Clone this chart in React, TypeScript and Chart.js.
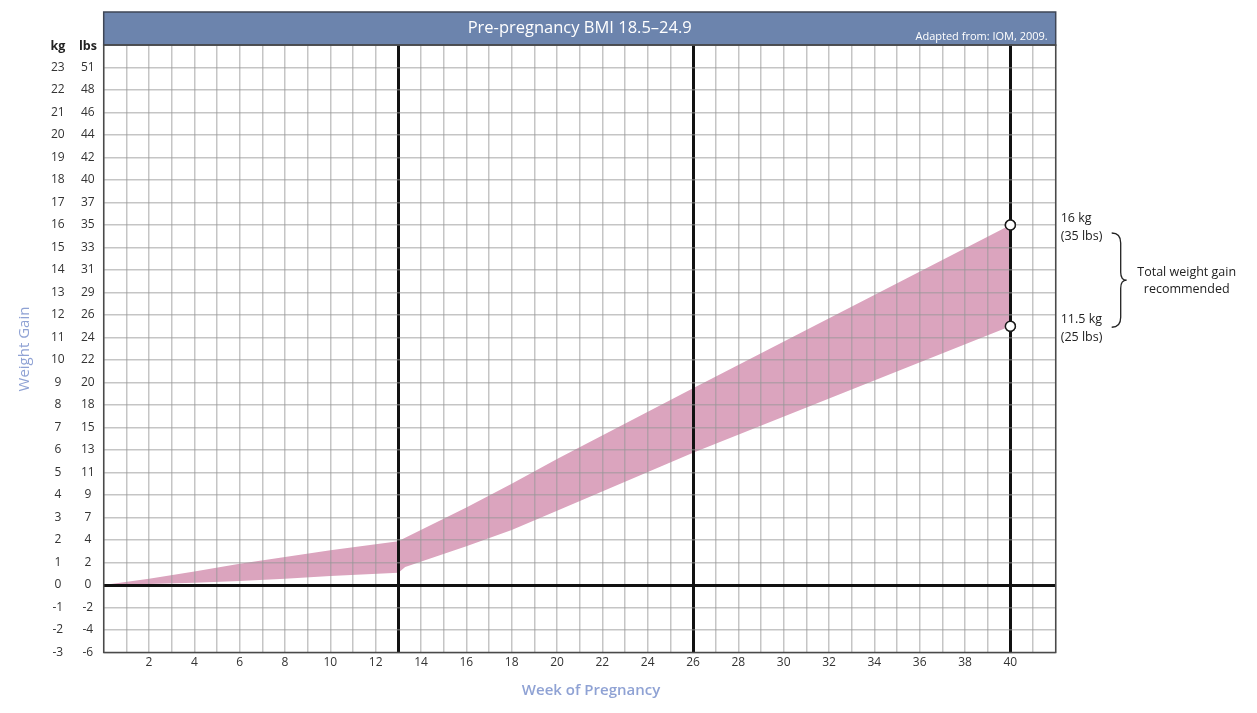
import { useEffect, useRef } from 'react';
import { Chart, registerables } from 'chart.js';

Chart.register(...registerables);

// ---- data ----
const weeks = [0, 2, 4, 6, 8, 10, 13, 13.3, 16, 18, 20, 26, 40];
const lowerGainKg = [0, 0.04, 0.1, 0.18, 0.28, 0.4, 0.55, 0.8, 1.72, 2.45, 3.3, 5.88, 11.5];
const upperGainKg = [0, 0.28, 0.6, 0.95, 1.25, 1.55, 1.95, 2.1, 3.45, 4.5, 5.6, 8.75, 16];
const markerWeeks = [40, 40];
const markerKg = [16, 11.5];
const weekTickLabels = [2, 4, 6, 8, 10, 12, 14, 16, 18, 20, 22, 24, 26, 28, 30, 32, 34, 36, 38, 40];
const kgTickLabels = [-3, -2, -1, 0, 1, 2, 3, 4, 5, 6, 7, 8, 9, 10, 11, 12, 13, 14, 15, 16, 17, 18, 19, 20, 21, 22, 23];
const lbsTickLabels = [-6, -4, -2, 0, 2, 4, 7, 9, 11, 13, 15, 18, 20, 22, 24, 26, 29, 31, 33, 35, 37, 40, 42, 44, 46, 48, 51];
const trimesterWeeks = [13, 26, 40];
const titleText = 'Pre-pregnancy BMI 18.5–24.9';
const sourceText = 'Adapted from: IOM, 2009.';
const xTitle = 'Week of Pregnancy';
const yTitle = 'Weight Gain';
const upperLabel = ['16 kg', '(35 lbs)'];
const lowerLabel = ['11.5 kg', '(25 lbs)'];
const braceLabel = ['Total weight gain', 'recommended'];

const FONT = '"Open Sans", "DejaVu Sans", sans-serif';
const PINK = '#dba4be';
const GRID = 'rgba(150,150,150,0.55)';
const AXIS_BLUE = '#8fa2d4';
const HEADER_BLUE = '#6c84ad';
const TICK_COLOR = '#333333';

const decorPlugin = {
  id: 'decor',
  afterDraw(chart: any) {
    const { ctx, chartArea } = chart;
    const { left, right, top, bottom } = chartArea;
    const yS = chart.scales.y;
    const xS = chart.scales.x;
    ctx.save();

    // header bar
    ctx.fillStyle = HEADER_BLUE;
    ctx.fillRect(left, 12, right - left, top - 12);
    ctx.strokeStyle = '#3e4656';
    ctx.lineWidth = 1.5;
    ctx.strokeRect(left, 12, right - left, top - 12);
    ctx.fillStyle = '#ffffff';
    ctx.textBaseline = 'middle';
    ctx.textAlign = 'center';
    ctx.font = `16.5px ${FONT}`;
    ctx.fillText(titleText, (left + right) / 2, 28);
    ctx.textAlign = 'right';
    ctx.font = `11px ${FONT}`;
    ctx.fillText(sourceText, right - 8, 37);

    // plot border
    ctx.strokeStyle = '#4a4a4a';
    ctx.lineWidth = 1.5;
    ctx.strokeRect(left, top, right - left, bottom - top);

    // redraw marker points on top of the grid
    const meta = chart.getDatasetMeta(2);
    meta.data.forEach((el: any) => el.draw(ctx, chartArea));

    // kg / lbs column headers
    ctx.fillStyle = '#222';
    ctx.textAlign = 'center';
    ctx.font = `bold 12.5px ${FONT}`;
    ctx.fillText('kg', 58, 46.5);
    ctx.fillText('lbs', 88, 46.5);

    // axis titles
    ctx.fillStyle = AXIS_BLUE;
    ctx.font = `600 15px ${FONT}`;
    ctx.fillText(xTitle, xS.getPixelForValue(21.5), 691);
    ctx.save();
    ctx.translate(25, 349);
    ctx.rotate(-Math.PI / 2);
    ctx.font = `500 15px ${FONT}`;
    ctx.fillText(yTitle, 0, 0);
    ctx.restore();

    // right annotations
    ctx.fillStyle = '#222';
    ctx.textAlign = 'left';
    ctx.font = `12.5px ${FONT}`;
    const tx = right + 5;
    const yU = yS.getPixelForValue(markerKg[0]);
    const yL = yS.getPixelForValue(markerKg[1]);
    ctx.fillText(upperLabel[0], tx, yU - 7);
    ctx.fillText(upperLabel[1], tx, yU + 11);
    ctx.fillText(lowerLabel[0], tx, yL - 7);
    ctx.fillText(lowerLabel[1], tx, yL + 11);

    // brace
    const bx = right + 56;
    const bTop = yU + 8;
    const bBot = yL + 1;
    const mid = (bTop + bBot) / 2;
    const w = 9;
    ctx.strokeStyle = '#222';
    ctx.lineWidth = 1.3;
    ctx.beginPath();
    ctx.moveTo(bx, bTop);
    ctx.quadraticCurveTo(bx + w, bTop, bx + w, bTop + 10);
    ctx.lineTo(bx + w, mid - 8);
    ctx.quadraticCurveTo(bx + w, mid, bx + w + 6, mid);
    ctx.quadraticCurveTo(bx + w, mid, bx + w, mid + 8);
    ctx.lineTo(bx + w, bBot - 10);
    ctx.quadraticCurveTo(bx + w, bBot, bx, bBot);
    ctx.stroke();

    ctx.textAlign = 'center';
    ctx.fillText(braceLabel[0], right + 131, mid - 8);
    ctx.fillText(braceLabel[1], right + 131, mid + 9);

    ctx.restore();
  },
};

export default function App() {
  const ref = useRef<HTMLCanvasElement>(null);
  useEffect(() => {
    if (!ref.current) return;
    const chart = new Chart(ref.current, {
      type: 'line',
      data: {
        datasets: [
          {
            data: weeks.map((w, i) => ({ x: w, y: lowerGainKg[i] })),
            borderWidth: 0,
            borderColor: 'rgba(0,0,0,0)',
            pointRadius: 0,
            fill: false,
            tension: 0,
          },
          {
            data: weeks.map((w, i) => ({ x: w, y: upperGainKg[i] })),
            borderWidth: 0,
            borderColor: 'rgba(0,0,0,0)',
            backgroundColor: PINK,
            pointRadius: 0,
            fill: '-1',
            tension: 0,
          },
          {
            data: markerWeeks.map((w, i) => ({ x: w, y: markerKg[i] })),
            showLine: false,
            pointRadius: 5,
            pointBackgroundColor: '#ffffff',
            pointBorderColor: '#1a1a1a',
            pointBorderWidth: 1.5,
            fill: false,
          },
        ],
      },
      options: {
        responsive: false,
        animation: false,
        events: [],
        layout: { padding: { left: 43.7, right: 201.3, top: 45, bottom: 40.5 } },
        plugins: { legend: { display: false }, tooltip: { enabled: false } },
        scales: {
          x: {
            type: 'linear',
            min: 0,
            max: 42,
            z: 1,
            border: { display: false },
            grid: {
              z: 1,
              drawTicks: false,
              color: (c: any) => (c.tick && trimesterWeeks.includes(c.tick.value) ? '#111' : GRID),
              lineWidth: (c: any) => (c.tick && trimesterWeeks.includes(c.tick.value) ? 3 : 1.5),
            },
            ticks: {
              stepSize: 1,
              autoSkip: false,
              maxRotation: 0,
              padding: 3,
              color: TICK_COLOR,
              font: { family: FONT, size: 12 },
              callback: (v: any) => (weekTickLabels.includes(Number(v)) ? String(v) : ''),
            },
            afterFit: (s: any) => {
              s.height = 20;
            },
          },
          y: {
            type: 'linear',
            position: 'left',
            weight: 1,
            min: -3,
            max: 24,
            z: 1,
            border: { display: false },
            grid: {
              z: 1,
              drawTicks: false,
              color: (c: any) => (c.tick && c.tick.value === 0 ? '#111' : GRID),
              lineWidth: (c: any) => (c.tick && c.tick.value === 0 ? 3 : 1.5),
            },
            ticks: {
              stepSize: 1,
              crossAlign: 'center',
              padding: 9,
              color: TICK_COLOR,
              font: { family: FONT, size: 12 },
              callback: (v: any) => (kgTickLabels.includes(Number(v)) ? String(v) : ''),
            },
            afterFit: (s: any) => {
              s.width = 30;
            },
          },
          lbs: {
            type: 'linear',
            position: 'left',
            weight: 0,
            min: -3,
            max: 24,
            border: { display: false },
            grid: { display: false, drawTicks: false },
            ticks: {
              stepSize: 1,
              crossAlign: 'center',
              padding: 9,
              color: TICK_COLOR,
              font: { family: FONT, size: 12 },
              callback: (v: any) => {
                const i = kgTickLabels.indexOf(Number(v));
                return i >= 0 ? String(lbsTickLabels[i]) : '';
              },
            },
            afterFit: (s: any) => {
              s.width = 30;
            },
          },
        },
      } as any,
      plugins: [decorPlugin],
    });
    return () => chart.destroy();
  }, []);

  return (
    <div style={{ position: 'fixed', left: 0, top: 0, width: 1257, height: 713, background: '#fff' }}>
      <canvas ref={ref} width={1257} height={713} style={{ display: 'block' }} />
    </div>
  );
}
